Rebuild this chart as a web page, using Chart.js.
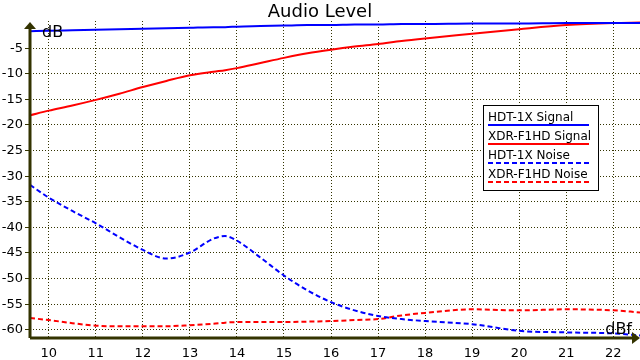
<!DOCTYPE html>
<html>
<head>
<meta charset="utf-8">
<script src="https://cdn.jsdelivr.net/npm/chart.js@4"></script>
<style>
  body { margin: 0; background: #fff; }
  #wrap { width: 640px; height: 360px; }
</style>
</head>
<body>
<div id="wrap"><canvas id="audio"></canvas></div>
<script>
// data (x in dBf, y in dB)
const xPts = [9.6, 10, 10.5, 11, 11.5, 12, 12.5, 13, 13.5, 13.75, 14, 14.5, 15, 15.5, 16, 16.5, 17, 17.5, 18, 19, 20, 21, 22, 22.57];
const hdtSignal = [-1.7, -1.6, -1.5, -1.4, -1.3, -1.2, -1.1, -1.0, -0.9, -0.9, -0.8, -0.7, -0.6, -0.5, -0.5, -0.4, -0.4, -0.3, -0.3, -0.2, -0.2, -0.1, -0.1, -0.1];
const xdrSignal = [-18.1, -17.2, -16.2, -15.1, -13.9, -12.6, -11.4, -10.3, -9.6, -9.3, -8.9, -7.9, -6.9, -6.0, -5.3, -4.7, -4.2, -3.6, -3.1, -2.2, -1.3, -0.5, -0.1, 0];
const hdtNoise = [-31.7, -34.2, -36.8, -39.2, -41.9, -44.4, -46.1, -44.9, -42.2, -41.7, -42.6, -45.9, -49.4, -52.3, -54.6, -56.2, -57.3, -57.9, -58.3, -58.9, -60.2, -60.5, -60.7, -61.1];
const xdrNoise = [-57.7, -58.1, -58.7, -59.2, -59.3, -59.3, -59.3, -59.1, -58.8, -58.6, -58.5, -58.5, -58.5, -58.4, -58.3, -58.1, -57.9, -57.2, -56.7, -56.0, -56.2, -56.0, -56.2, -56.6];
const xTicks = [10, 11, 12, 13, 14, 15, 16, 17, 18, 19, 20, 21, 22];
const yTicks = [-60, -55, -50, -45, -40, -35, -30, -25, -20, -15, -10, -5];
const seriesNames = ['HDT-1X Signal', 'XDR-F1HD Signal', 'HDT-1X Noise', 'XDR-F1HD Noise'];

const axisColor = '#333300';
const font = 'DejaVu Sans';

function pts(ys) {
  return xPts.map((x, i) => ({ x: x, y: ys[i] }));
}

// title, axis arrows, unit labels and the boxed legend
const decor = {
  id: 'decor',
  afterDraw(chart) {
    const c = chart.ctx;
    const a = chart.chartArea;
    c.save();
    c.fillStyle = '#000';
    c.font = '18px ' + font;
    c.textAlign = 'center';
    c.textBaseline = 'middle';
    c.fillText('Audio Level', 320, 12);

    c.strokeStyle = axisColor;
    c.fillStyle = axisColor;
    c.lineWidth = 3;
    c.beginPath();
    c.moveTo(a.left, a.bottom);
    c.lineTo(a.left, a.top + 4);
    c.moveTo(a.left, a.bottom);
    c.lineTo(a.right - 6, a.bottom);
    c.stroke();
    c.beginPath();
    c.moveTo(a.left - 6, a.top + 8);
    c.lineTo(a.left, a.top + 1);
    c.lineTo(a.left + 6, a.top + 8);
    c.fill();
    c.beginPath();
    c.moveTo(a.right - 8, a.bottom - 6);
    c.lineTo(a.right, a.bottom);
    c.lineTo(a.right - 8, a.bottom + 6);
    c.fill();

    c.fillStyle = '#000';
    c.font = '16px ' + font;
    c.textAlign = 'left';
    c.textBaseline = 'alphabetic';
    c.fillText('dB', a.left + 12, a.top + 16);
    c.textAlign = 'right';
    c.fillText('dBf', a.right - 8, a.bottom - 4);

    // legend
    const lx = 483, ly = 105, lw = 115, lh = 85;
    c.fillStyle = '#fff';
    c.fillRect(lx, ly, lw, lh);
    c.strokeStyle = '#000';
    c.lineWidth = 1;
    c.strokeRect(lx + 0.5, ly + 0.5, lw, lh);
    c.font = '12px ' + font;
    c.textAlign = 'left';
    chart.data.datasets.forEach((ds, i) => {
      const by = ly + 16 + i * 19;
      c.fillStyle = '#000';
      c.fillText(seriesNames[i], lx + 5, by);
      c.strokeStyle = ds.borderColor;
      c.lineWidth = 2;
      c.setLineDash(ds.borderDash || []);
      c.beginPath();
      c.moveTo(lx + 5, by + 4);
      c.lineTo(lx + 106, by + 4);
      c.stroke();
    });
    c.restore();
  }
};

new Chart(document.getElementById('audio'), {
  type: 'line',
  data: {
    datasets: [
      { label: seriesNames[0], data: pts(hdtSignal), borderColor: '#0000ff', borderWidth: 2 },
      { label: seriesNames[1], data: pts(xdrSignal), borderColor: '#ff0000', borderWidth: 2 },
      { label: seriesNames[2], data: pts(hdtNoise), borderColor: '#0000ff', borderWidth: 2, borderDash: [5, 3] },
      { label: seriesNames[3], data: pts(xdrNoise), borderColor: '#ff0000', borderWidth: 2, borderDash: [5, 3] }
    ]
  },
  options: {
    responsive: true,
    maintainAspectRatio: false,
    animation: false,
    layout: { padding: { top: 21, right: 0, left: 0, bottom: 0 } },
    elements: { point: { radius: 0 }, line: { tension: 0.4, cubicInterpolationMode: 'monotone' } },
    plugins: { legend: { display: false }, title: { display: false }, tooltip: { enabled: false } },
    scales: {
      x: {
        type: 'linear',
        min: 9.6,
        max: 22.57,
        afterBuildTicks: s => { s.ticks = xTicks.map(v => ({ value: v })); },
        afterFit: s => { s.height = 22; },
        grid: { color: axisColor, lineWidth: 1, tickLength: 4, drawTicks: false },
        border: { display: false, dash: [1, 2] },
        ticks: { color: '#000', font: { family: font, size: 13 }, padding: 8, maxRotation: 0 }
      },
      y: {
        min: -61.6,
        max: 0.3,
        afterBuildTicks: s => { s.ticks = yTicks.map(v => ({ value: v })); },
        afterFit: s => { s.width = 30; },
        grid: { color: axisColor, lineWidth: 1, tickLength: 5, tickBorderDash: [0, 0] },
        border: { display: false, dash: [1, 2] },
        ticks: { color: '#000', font: { family: font, size: 13 }, padding: 2 }
      }
    }
  },
  plugins: [decor]
});
</script>
</body>
</html>
